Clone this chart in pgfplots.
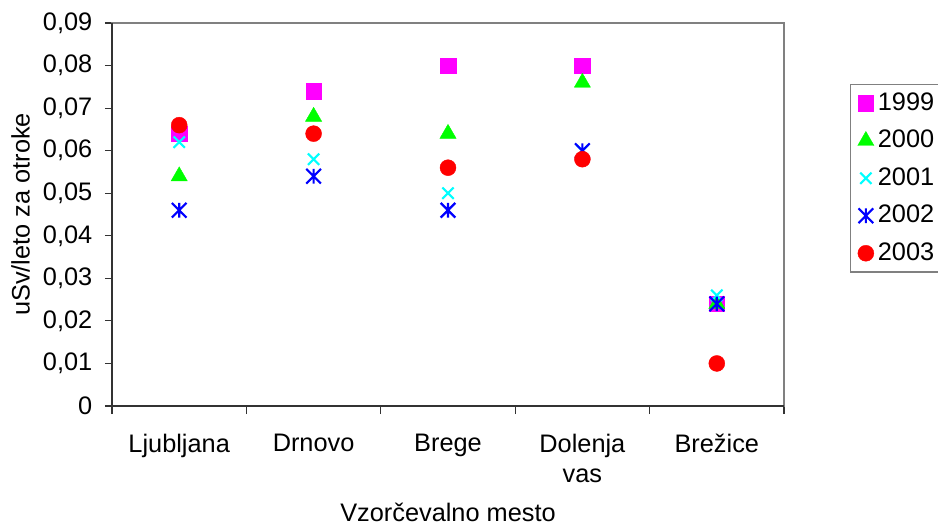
\documentclass[border=0pt]{standalone}
\usepackage{fontspec}
\setmainfont{Liberation Sans}
\usepackage{pgfplots}
\pgfplotsset{compat=1.18}
\definecolor{cMag}{RGB}{255,0,255}
\definecolor{cGrn}{RGB}{0,255,0}
\definecolor{cCya}{RGB}{0,255,255}
\definecolor{cBlu}{RGB}{0,0,255}
\definecolor{cRed}{RGB}{255,0,0}
\newcommand{\chartfont}{\fontsize{19pt}{23pt}\selectfont}
% cross with a vertical bar through it
\pgfdeclareplotmark{xbar}{%
  \pgfpathmoveto{\pgfqpoint{0pt}{\pgfplotmarksize}}%
  \pgfpathlineto{\pgfqpoint{0pt}{-\pgfplotmarksize}}%
  \pgfpathmoveto{\pgfqpoint{-\pgfplotmarksize}{-\pgfplotmarksize}}%
  \pgfpathlineto{\pgfqpoint{\pgfplotmarksize}{\pgfplotmarksize}}%
  \pgfpathmoveto{\pgfqpoint{-\pgfplotmarksize}{\pgfplotmarksize}}%
  \pgfpathlineto{\pgfqpoint{\pgfplotmarksize}{-\pgfplotmarksize}}%
  \pgfusepathqstroke}
\begin{document}
\chartfont
\begin{tikzpicture}
\useasboundingbox (-84pt,-89.25pt) rectangle (619.5pt,304.5pt);
\begin{axis}[
  at={(0pt,0pt)}, anchor=south west,
  scale only axis, width=504pt, height=287.25pt,
  xmin=-0.5, xmax=4.5, ymin=0, ymax=0.09,
  scaled y ticks=false,
  xtick={0,1,2,3,4},
  xticklabels={Ljubljana,Drnovo,Brege,{Dolenja\\vas},Brežice},
  major x tick style={draw=none},
  minor xtick={-0.5,0.5,1.5,2.5,3.5,4.5},
  minor x tick style={black!80, line width=0.8pt},
  minor tick length=6pt,
  ytick={0,0.01,0.02,0.03,0.04,0.05,0.06,0.07,0.08,0.09},
  yticklabels={0,{0,01},{0,02},{0,03},{0,04},{0,05},{0,06},{0,07},{0,08},{0,09}},
  major y tick style={black!80, line width=0.8pt},
  major tick length=5.25pt,
  tick align=outside,
  xtick pos=bottom, ytick pos=left,
  xticklabel style={align=center, font=\chartfont, yshift=-9pt},
  yticklabel style={font=\chartfont, xshift=-3pt},
  axis line style={draw=gray, line width=0.8pt},
  xlabel={Vzorčevalno mesto},
  ylabel={uSv/leto za otroke},
  xlabel style={font=\chartfont, yshift=-2pt},
  ylabel style={font=\chartfont, yshift=-3pt},
  only marks,
  clip=false,
  legend style={at={(rel axis cs:1.0982,0.8407)}, anchor=north west,
    draw=gray, line width=0.8pt, inner xsep=5pt, inner ysep=5pt,
    row sep=10pt, font=\chartfont,
    nodes={inner sep=1pt}},
  legend cell align=left,
  legend image code/.code={\path (-6.5pt,0pt) -- (8pt,0pt); \draw[#1] plot coordinates {(0pt,0pt)};},
]
% 1999
\addplot[mark=square*, mark size=5.8pt, draw=none, mark options={fill=cMag, draw=cMag, line width=0.3pt}]
  coordinates {(0,0.064) (1,0.074) (2,0.080) (3,0.080) (4,0.024)};
\addlegendentry{1999}
% 2000
\addplot[mark=triangle*, mark size=7pt, draw=none, mark options={fill=cGrn, draw=cGrn, line width=0.3pt}]
  coordinates {(0,0.054) (1,0.068) (2,0.064) (3,0.076) (4,0.024)};
\addlegendentry{2000}
% 2001
\addplot[mark=x, mark size=6pt, draw=none, mark options={draw=cCya, line width=1.6pt}]
  coordinates {(0,0.062) (1,0.058) (2,0.050) (3,0.060) (4,0.026)};
\addlegendentry{2001}
% 2002
\addplot[mark=xbar, mark size=5.5pt, draw=none, mark options={draw=cBlu, line width=1.6pt}]
  coordinates {(0,0.046) (1,0.054) (2,0.046) (3,0.060) (4,0.024)};
\addlegendentry{2002}
% 2003
\addplot[mark=*, mark size=6pt, draw=none, mark options={fill=cRed, draw=cRed, line width=0.3pt}]
  coordinates {(0,0.066) (1,0.064) (2,0.056) (3,0.058) (4,0.010)};
\addlegendentry{2003}
% darker left and bottom axis lines
\draw[black!80, line width=1pt] (rel axis cs:0,1) -- (rel axis cs:0,0) -- (rel axis cs:1,0);
\end{axis}
\end{tikzpicture}
\end{document}
